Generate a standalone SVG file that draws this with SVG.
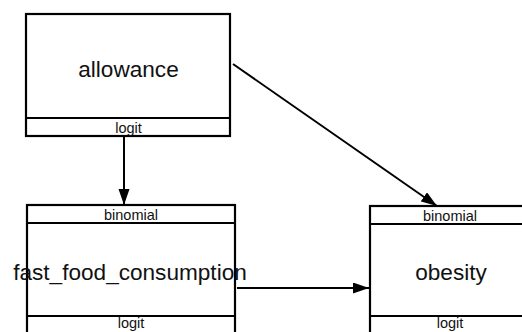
<svg xmlns="http://www.w3.org/2000/svg" width="522" height="332" viewBox="0 0 522 332">
<defs>
<style>
.box{fill:#fff;stroke:#000;stroke-width:2.2}
.div{stroke:#000;stroke-width:2.2}
.big{font-family:"Liberation Sans",Arial,sans-serif;font-size:22.6px;fill:#111;text-anchor:middle}
.small{font-family:"Liberation Sans",Arial,sans-serif;font-size:14.5px;fill:#111;text-anchor:middle}
.edge{stroke:#000;stroke-width:2;fill:none;marker-end:url(#arr)}
</style>
<marker id="arr" markerUnits="userSpaceOnUse" markerWidth="17" markerHeight="12" refX="16" refY="5.5" orient="auto">
<path d="M0,0 L16,5.5 L0,11 z" fill="#000"/>
</marker>
</defs>
<rect width="522" height="332" fill="#fff"/>
<g id="connectors">
<line class="edge" x1="124" y1="137" x2="124" y2="205"/>
<line class="edge" x1="233" y1="64" x2="437" y2="206"/>
<line class="edge" x1="237" y1="288" x2="369" y2="288"/>
</g>
<g id="allowance">
<rect class="box" x="26" y="14" width="204" height="122"/>
<line class="div" x1="26" y1="118" x2="230" y2="118"/>
<text class="big" x="128.5" y="77">allowance</text>
<text class="small" x="128.5" y="133">logit</text>
</g>
<g id="fast_food_consumption">
<rect class="box" x="27" y="205" width="208" height="130"/>
<line class="div" x1="27" y1="223" x2="235" y2="223"/>
<line class="div" x1="27" y1="316" x2="235" y2="316"/>
<text class="small" x="131" y="220">binomial</text>
<text class="big" x="130" y="280">fast_food_consumption</text>
<text class="small" x="131" y="328">logit</text>
</g>
<g id="obesity">
<rect class="box" x="370" y="206" width="164" height="130"/>
<line class="div" x1="370" y1="224" x2="534" y2="224"/>
<line class="div" x1="370" y1="316" x2="534" y2="316"/>
<text class="small" x="450" y="221">binomial</text>
<text class="big" x="451" y="280">obesity</text>
<text class="small" x="450" y="328">logit</text>
</g>
</svg>
